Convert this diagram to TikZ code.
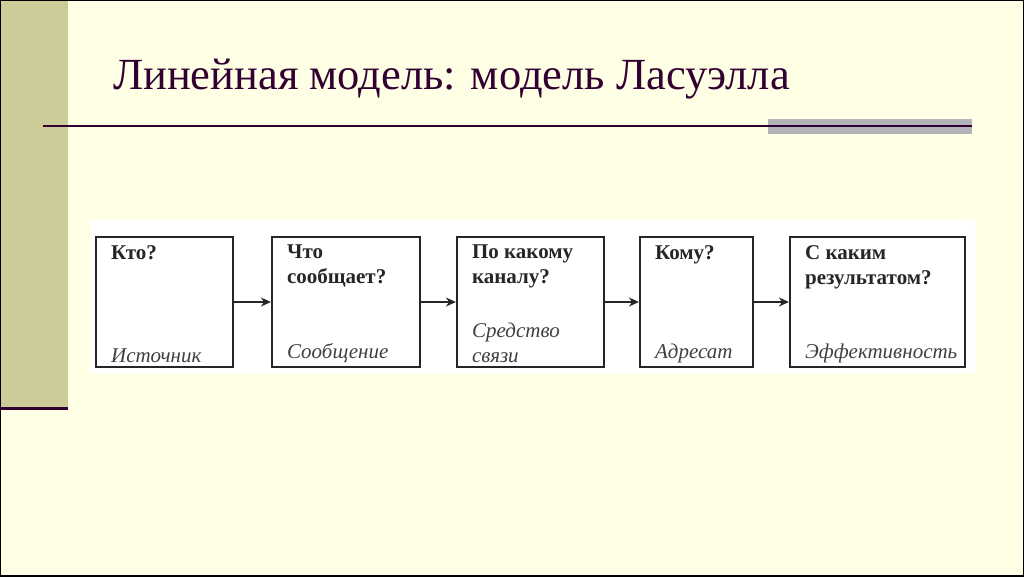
\documentclass[tikz,border=0pt]{standalone}
\usepackage{fontspec}
\setmainfont{Liberation Serif}
\usetikzlibrary{positioning,arrows.meta}
\definecolor{slidebg}{RGB}{255,255,229}
\definecolor{band}{RGB}{204,204,153}
\definecolor{ink}{RGB}{51,0,51}
\definecolor{bar}{RGB}{180,180,184}

\begin{document}
\begin{tikzpicture}[x=1pt,y=-1pt,
    stage/.style={draw=black!85,line width=2.2pt,fill=white,minimum height=130pt},
    ask/.style={anchor=north west,align=left,inner sep=0pt,font=\fontsize{21}{25}\selectfont\bfseries,text=black!85},
    role/.style={anchor=south west,align=left,inner sep=0pt,font=\fontsize{21}{25}\selectfont\itshape,text=black!75},
    flow/.style={-{Stealth[length=10pt,width=9pt]},line width=2pt,draw=black!85}]
        % Draw slide background
        \useasboundingbox (0,0) rectangle (1024,576);
        \fill[slidebg] (0,0) rectangle (1024,576);
        \fill[band] (0,0) rectangle (68,408);
        \draw[ink,line width=3pt] (0,408) -- (68,408);
        % Draw title
        \node[anchor=base west,inner sep=0pt,text=ink,font=\fontsize{44.5}{48}\selectfont] (title) at (113,89) {Линейная модель: модель Ласуэлла};
        \fill[bar] (768,119) rectangle (972,134);
        \draw[ink,line width=1.5pt] (43,126) -- (972,126);
        % Draw white panel
        \fill[white] (90,220) rectangle (975,373);
        % Draw boxes
        \node[stage,minimum width=137pt] (src) at (164.5,302) {};
        \node[stage,minimum width=148pt] (msg) at (346,302) {};
        \node[stage,minimum width=147pt] (chan) at (530.5,302) {};
        \node[stage,minimum width=113pt] (dest) at (696.5,302) {};
        \node[stage,minimum width=175pt] (eff) at (877.5,302) {};
        % Draw questions
        \node[ask] (q1) at ([shift={(16,9)}]src.north west) {Кто?};
        \node[ask] (q2) at ([shift={(16,9)}]msg.north west) {Что\\сообщает?};
        \node[ask] (q3) at ([shift={(16,9)}]chan.north west) {По какому\\каналу?};
        \node[ask] (q4) at ([shift={(16,9)}]dest.north west) {Кому?};
        \node[ask] (q5) at ([shift={(16,9)}]eff.north west) {С каким\\результатом?};
        % Draw roles
        \node[role] (r1) at ([shift={(16,-5)}]src.south west) {Источник};
        \node[role] (r2) at ([shift={(16,-5)}]msg.south west) {Сообщение};
        \node[role] (r3) at ([shift={(16,-5)}]chan.south west) {Средство\\связи};
        \node[role] (r4) at ([shift={(16,-5)}]dest.south west) {Адресат};
        \node[role] (r5) at ([shift={(16,-5)}]eff.south west) {Эффективность};
        % Draw arrows
        \draw[flow] (src.east) -- (msg.west);
        \draw[flow] (msg.east) -- (chan.west);
        \draw[flow] (chan.east) -- (dest.west);
        \draw[flow] (dest.east) -- (eff.west);
        % Draw slide frame
        \draw[black,line width=1.5pt] (0,0) rectangle (1024,576);
\end{tikzpicture}
\end{document}
